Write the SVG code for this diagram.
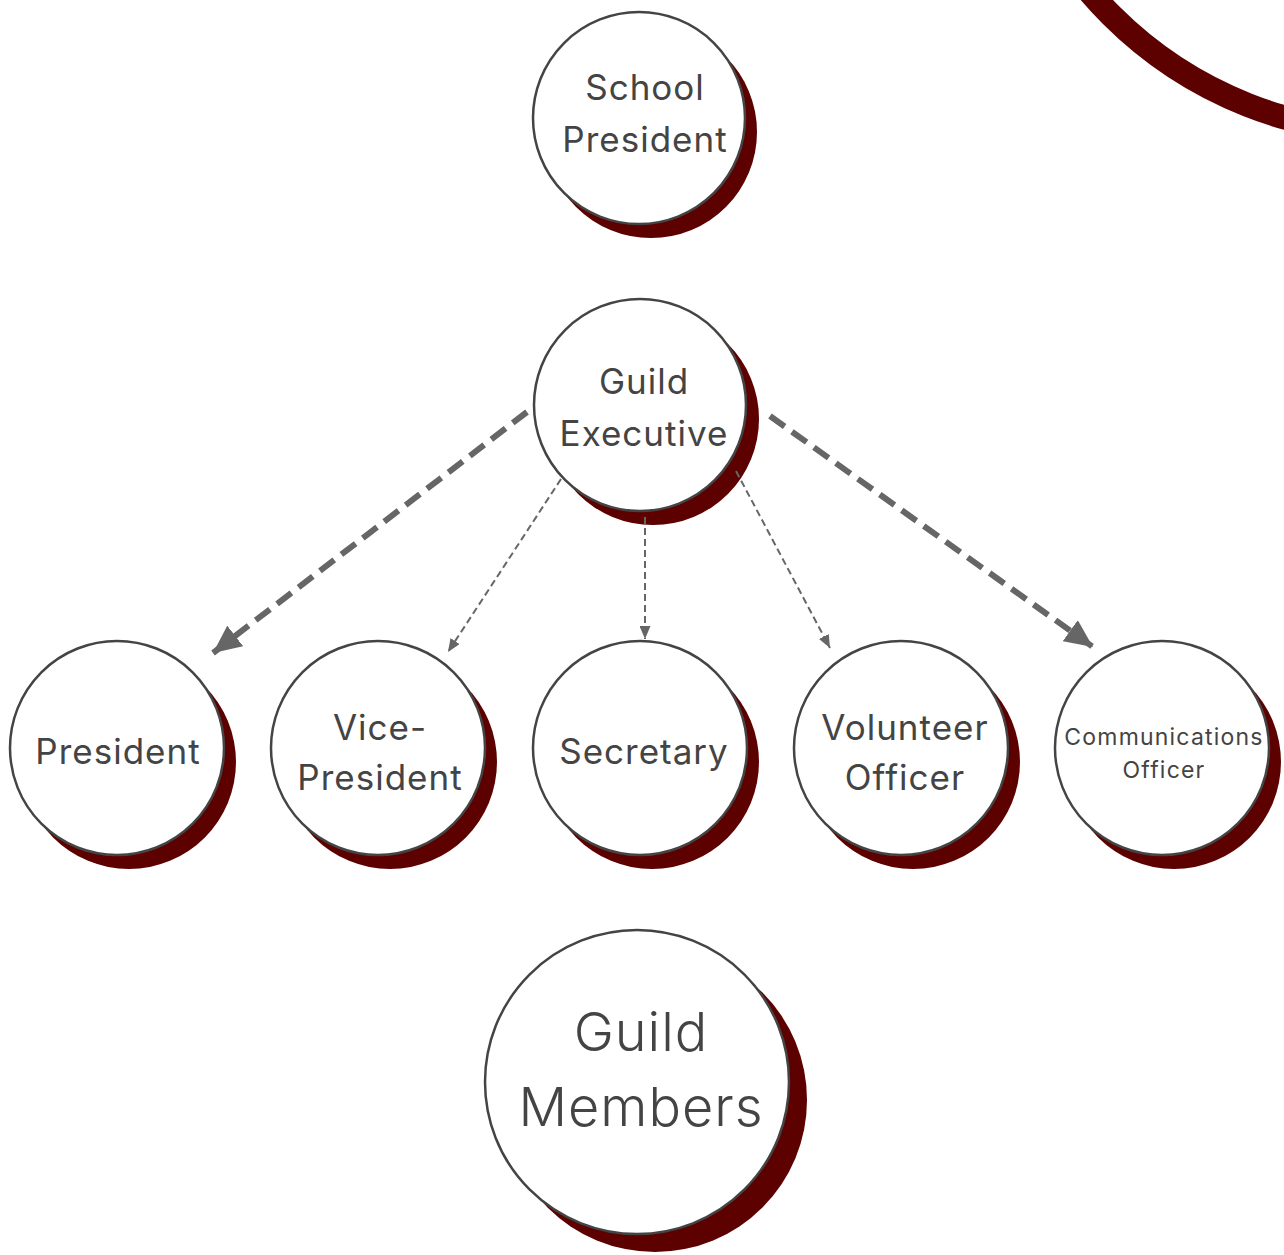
<svg xmlns="http://www.w3.org/2000/svg" width="1284" height="1255" viewBox="0 0 1284 1255">
<defs>
<style>
.sh{fill:#5c0000}
.c{fill:#fff;stroke:#444;stroke-width:2.5}
.t{font-family:Inter,"Noto Sans",sans-serif;fill:#444;text-anchor:middle;letter-spacing:1px}
.thick{stroke:#666;stroke-width:6;stroke-dasharray:18 9;fill:none;marker-end:url(#big)}
.thin{stroke:#666;stroke-width:2;stroke-dasharray:7 4;fill:none;marker-end:url(#small)}
</style>
<marker id="big" viewBox="0 0 28 26" refX="28" refY="13" markerWidth="28" markerHeight="26" markerUnits="userSpaceOnUse" orient="auto"><path d="M0 0L28 13L0 26z" fill="#666"/></marker>
<marker id="small" viewBox="0 0 13 11" refX="13" refY="5.5" markerWidth="13" markerHeight="11" markerUnits="userSpaceOnUse" orient="auto"><path d="M0 0L13 5.5L0 11z" fill="#666"/></marker>
</defs>
<rect width="1284" height="1255" fill="#fff"/>
<circle cx="1395" cy="-268" r="401" fill="none" stroke="#5c0000" stroke-width="24"/>
<g id="school-president"><circle class="sh" cx="651" cy="132" r="106"/><circle class="c" cx="639" cy="118" r="106"/><text class="t" font-size="35"><tspan x="645" y="100">School</tspan><tspan x="645" y="152">President</tspan></text></g>
<g id="guild-executive"><circle class="sh" cx="653" cy="419" r="106"/><circle class="c" cx="640" cy="405" r="106"/><text class="t" font-size="35"><tspan x="644" y="394">Guild</tspan><tspan x="644" y="446">Executive</tspan></text></g>
<g id="president"><circle class="sh" cx="129" cy="762" r="107"/><circle class="c" cx="117" cy="748" r="107"/><text class="t" font-size="35" x="118" y="764">President</text></g>
<g id="vice-president"><circle class="sh" cx="390" cy="762" r="107"/><circle class="c" cx="378" cy="748" r="107"/><text class="t" font-size="35"><tspan x="380" y="740">Vice-</tspan><tspan x="380" y="790">President</tspan></text></g>
<g id="secretary"><circle class="sh" cx="652" cy="762" r="107"/><circle class="c" cx="640" cy="748" r="107"/><text class="t" font-size="35" x="644" y="764">Secretary</text></g>
<g id="volunteer-officer"><circle class="sh" cx="913" cy="762" r="107"/><circle class="c" cx="901" cy="748" r="107"/><text class="t" font-size="35"><tspan x="905" y="740">Volunteer</tspan><tspan x="905" y="790">Officer</tspan></text></g>
<g id="communications-officer"><circle class="sh" cx="1174" cy="762" r="107"/><circle class="c" cx="1162" cy="748" r="107"/><text class="t" font-size="23" style="letter-spacing:1.2px"><tspan x="1164" y="745">Communications</tspan><tspan x="1164" y="778">Officer</tspan></text></g>
<g id="guild-members"><circle class="sh" cx="655" cy="1100" r="152"/><circle class="c" cx="637" cy="1082" r="152"/><text class="t" font-size="54" font-weight="300"><tspan x="641" y="1051">Guild</tspan><tspan x="641" y="1126">Members</tspan></text></g>
<g id="connectors">
<line class="thick" x1="527" y1="412" x2="213" y2="653"/>
<line class="thin" x1="561" y1="479" x2="448" y2="652"/>
<line class="thin" x1="645" y1="517" x2="645" y2="639"/>
<line class="thin" x1="736" y1="471" x2="830" y2="648"/>
<line class="thick" x1="770" y1="416" x2="1093" y2="647"/>
</g>
</svg>
